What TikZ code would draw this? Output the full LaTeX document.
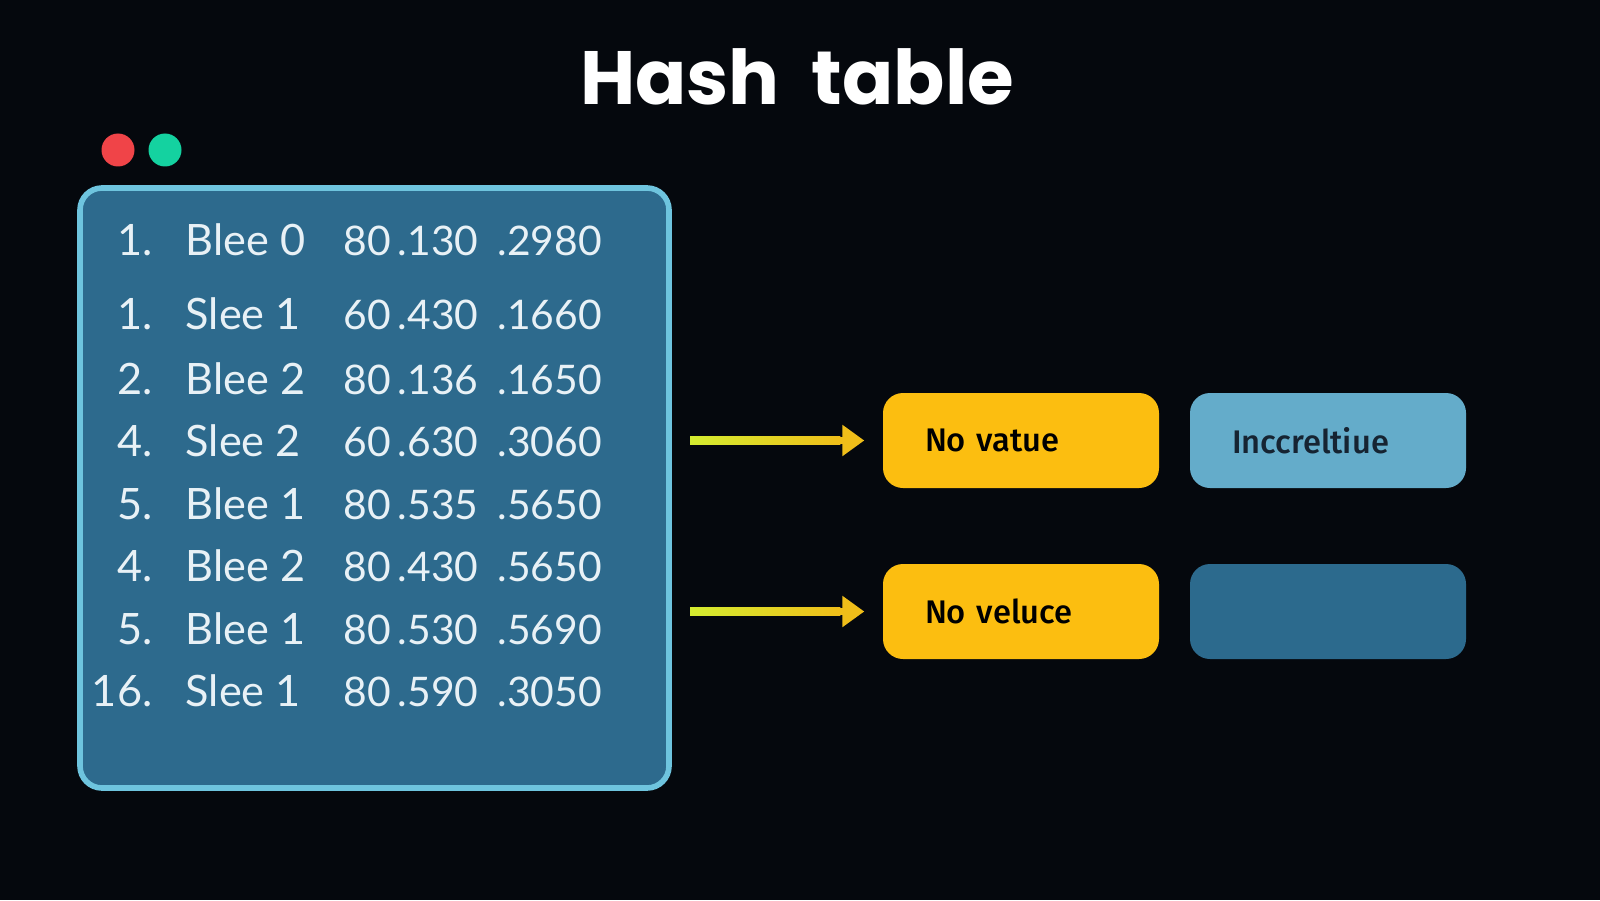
\documentclass[tikz,border=0pt]{standalone}
\usepackage{fontspec}
\setmainfont{Lato}
\newfontfamily\titlefont{Poppins}
\newfontfamily\boxfont{Fira Sans Medium}
\usetikzlibrary{positioning,arrows.meta}

\definecolor{bgdark}{RGB}{5,8,13}
\definecolor{panelfill}{RGB}{45,106,141}
\definecolor{panelrim}{RGB}{110,196,222}
\definecolor{dotred}{RGB}{240,68,72}
\definecolor{dotgreen}{RGB}{20,210,160}
\definecolor{slotyellow}{RGB}{252,190,16}
\definecolor{slotlight}{RGB}{100,172,202}
\definecolor{slotdark}{RGB}{44,106,141}
\definecolor{rowtext}{RGB}{232,241,246}
\definecolor{arrowcol}{RGB}{240,190,25}
\definecolor{arrowlime}{RGB}{212,236,48}

\tikzset{
  rowtxt/.style={text=rowtext,font=\fontsize{12.3}{13}\selectfont,inner sep=0pt},
  numtxt/.style={rowtxt,font=\fontsize{11.6}{13}\selectfont},
  slot/.style={rounded corners=0.2cm,minimum width=2.76cm,minimum height=0.95cm,
    text width=1.92cm,align=left,inner xsep=0.42cm,font=\boxfont\fontsize{9.3}{10}\selectfont},
  hasharrow/.style={draw=arrowcol,line width=2.2pt,-{Triangle[length=0.22cm,width=0.3cm]}}
}

\begin{document}
\begin{tikzpicture}
\useasboundingbox (0,0) rectangle (16,9);
\fill[bgdark] (0,0) rectangle (16,9);

% title
\node[text=white,font=\titlefont\bfseries\fontsize{21.5}{22}\selectfont,anchor=base] (title) at (7.97,7.95) {Hash\ \ table};

% window dots
\fill[dotred] (1.18,7.50) circle (0.165);
\fill[dotgreen] (1.65,7.50) circle (0.165);

% table panel
\draw[panelrim,fill=panelfill,line width=1.6pt,rounded corners=0.22cm] (0.80,1.12) rectangle (6.69,7.12);
\foreach \i/\num/\key/\va/\vb/\y in {
  1/1./Blee 0/80\,.130/.2980/6.44,
  2/1./Slee 1/60\,.430/.1660/5.71,
  3/2./Blee 2/80\,.136/.1650/5.06,
  4/4./Slee 2/60\,.630/.3060/4.44,
  5/5./Blee 1/80\,.535/.5650/3.81,
  6/4./Blee 2/80\,.430/.5650/3.19,
  7/5./Blee 1/80\,.530/.5690/2.56,
  8/16./Slee 1/80\,.590/.3050/1.94}{
  \node[rowtxt,anchor=base east] (num\i) at (1.53,\y) {\num};
  \node[rowtxt,anchor=base west] (key\i) at (1.85,\y) {\key};
  \node[numtxt,anchor=base west] (va\i) at (3.43,\y) {\va};
  \node[numtxt,anchor=base west] (vb\i) at (4.97,\y) {\vb};
}

% buckets
\node[slot,fill=slotyellow,text=black] (val1) at (10.21,4.595) {No vatue};
\node[slot,fill=slotlight,text={rgb,255:red,22;green,36;blue,50}] (next1) at (13.28,4.595) {Inccreltiue};
\node[slot,fill=slotyellow,text=black] (val2) at (10.21,2.885) {No veluce};
\node[slot,fill=slotdark] (next2) at (13.28,2.885) {};

% pointers, shaft shaded lime -> yellow
\coordinate (src1) at (6.90,4.595);
\coordinate (src2) at (6.90,2.885);
\draw[hasharrow] (src1) -- ([xshift=-0.18cm]val1.west);
\draw[hasharrow] (src2) -- ([xshift=-0.18cm]val2.west);
\shade[left color=arrowlime,right color=arrowcol] ([yshift=-1.1pt]src1) rectangle ([xshift=-0.42cm,yshift=1.1pt]val1.west);
\shade[left color=arrowlime,right color=arrowcol] ([yshift=-1.1pt]src2) rectangle ([xshift=-0.42cm,yshift=1.1pt]val2.west);
\end{tikzpicture}
\end{document}
